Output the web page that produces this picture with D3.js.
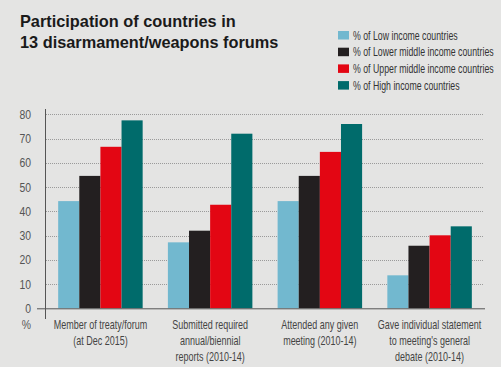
<!DOCTYPE html>
<html>
<head>
<meta charset="utf-8">
<script src="https://cdn.jsdelivr.net/npm/d3@7"></script>
<style>
  body { margin: 0; background: #e4e4e3; }
  svg { display: block; }
</style>
</head>
<body>
<script>
// data
var categories = [
    ["Member of treaty/forum", "(at Dec 2015)"],
    ["Submitted required", "annual/biennial", "reports (2010-14)"],
    ["Attended any given", "meeting (2010-14)"],
    ["Gave individual statement", "to meeting's general", "debate (2010-14)"]
];
var seriesNames = ["% of Low income countries", "% of Lower middle income countries",
    "% of Upper middle income countries", "% of High income countries"];
var lowIncome = [44.2, 27.2, 44.2, 13.6];
var lowerMiddle = [54.6, 32, 54.6, 25.8];
var upperMiddle = [66.6, 42.7, 64.5, 30.1];
var highIncome = [77.5, 72, 76, 33.8];
var yTicks = [0, 10, 20, 30, 40, 50, 60, 70, 80];

var series = [lowIncome, lowerMiddle, upperMiddle, highIncome];
var colors = ["#72b8cf", "#231f20", "#e30613", "#006b6b"];

var width = 501, height = 367;

let svg = d3.select("body").append("svg")
    .attr("width", width)
    .attr("height", height);

svg.append("rect").attr("width", width).attr("height", height).attr("fill", "#e4e4e3");

// narrow text: no condensed font installed, so squeeze a normal one
function narrow(parent, x, y, str, opts) {
    let sx = opts.sx || 0.75;
    return parent.append("text")
        .attr("transform", "translate(" + x + "," + y + ") scale(" + sx + ",1)")
        .attr("font-family", "Liberation Sans, Arial, sans-serif")
        .attr("font-size", opts.size || 12)
        .attr("text-anchor", opts.anchor || "start")
        .attr("fill", opts.fill || "#444")
        .text(str);
}

// title
let title = svg.append("text")
    .attr("transform", "scale(0.96,1)")
    .attr("font-family", "Liberation Sans, Arial, sans-serif")
    .attr("font-weight", "bold")
    .attr("font-size", 17)
    .attr("fill", "#1a1a1a");
title.append("tspan").attr("x", 20 / 0.96).attr("y", 27).text("Participation of countries in");
title.append("tspan").attr("x", 20 / 0.96).attr("y", 48).text("13 disarmament/weapons forums");

// legend
let legend = svg.append("g");
seriesNames.forEach(function(name, i) {
    let yy = 31 + i * 16.7;
    legend.append("rect").attr("x", 338).attr("y", yy)
        .attr("width", 11).attr("height", 8.5).attr("fill", colors[i]);
    narrow(legend, 353, yy + 8.5, name, { size: 12, sx: 0.73, fill: "#333" });
});

// scales
const y = d3.scaleLinear().domain([0, 80]).range([308.3, 114.3]);
const x = d3.scaleBand().domain(d3.range(categories.length))
    .range([45, 485]).paddingInner(0.23).paddingOuter(0.12);
const xs = d3.scaleBand().domain(d3.range(series.length)).range([0, x.bandwidth()]);

// gridlines
svg.append("g").selectAll("line")
    .data(yTicks.filter(function(d) { return d > 0; }))
    .enter().append("line")
        .attr("x1", 46).attr("x2", 483)
        .attr("y1", function(d) { return Math.round(y(d)) + 0.5; })
        .attr("y2", function(d) { return Math.round(y(d)) + 0.5; })
        .attr("stroke", "#9a9a9a")
        .attr("stroke-width", 1)
        .attr("stroke-dasharray", "1,1");

// y axis labels
let yAxis = svg.append("g");
yTicks.forEach(function(d) {
    narrow(yAxis, 31, y(d) + 4.5, d, { size: 13, sx: 0.8, anchor: "end", fill: "#555" });
});
narrow(yAxis, 31, 329, "%", { size: 13, sx: 0.8, anchor: "end", fill: "#555" });

// bars
series.forEach(function(vals, s) {
    svg.append("g").selectAll("rect")
        .data(vals)
        .enter().append("rect")
            .attr("x", function(d, i) { return x(i) + xs(s); })
            .attr("y", function(d) { return y(d); })
            .attr("width", xs.bandwidth())
            .attr("height", function(d) { return y(0) - y(d); })
            .attr("fill", colors[s]);
});

// axes lines
svg.append("line").attr("x1", 45.5).attr("x2", 45.5).attr("y1", 109).attr("y2", 319)
    .attr("stroke", "#555").attr("stroke-width", 1);
svg.append("line").attr("x1", 37).attr("x2", 485).attr("y1", y(0) + 0.5).attr("y2", y(0) + 0.5)
    .attr("stroke", "#555").attr("stroke-width", 1);

// category labels
let xl = svg.append("g");
categories.forEach(function(lines, i) {
    lines.forEach(function(l, j) {
        narrow(xl, x(i) + x.bandwidth() / 2, 329 + j * 16, l,
            { size: 12, sx: 0.75, anchor: "middle", fill: "#444" });
    });
});
</script>
</body>
</html>
